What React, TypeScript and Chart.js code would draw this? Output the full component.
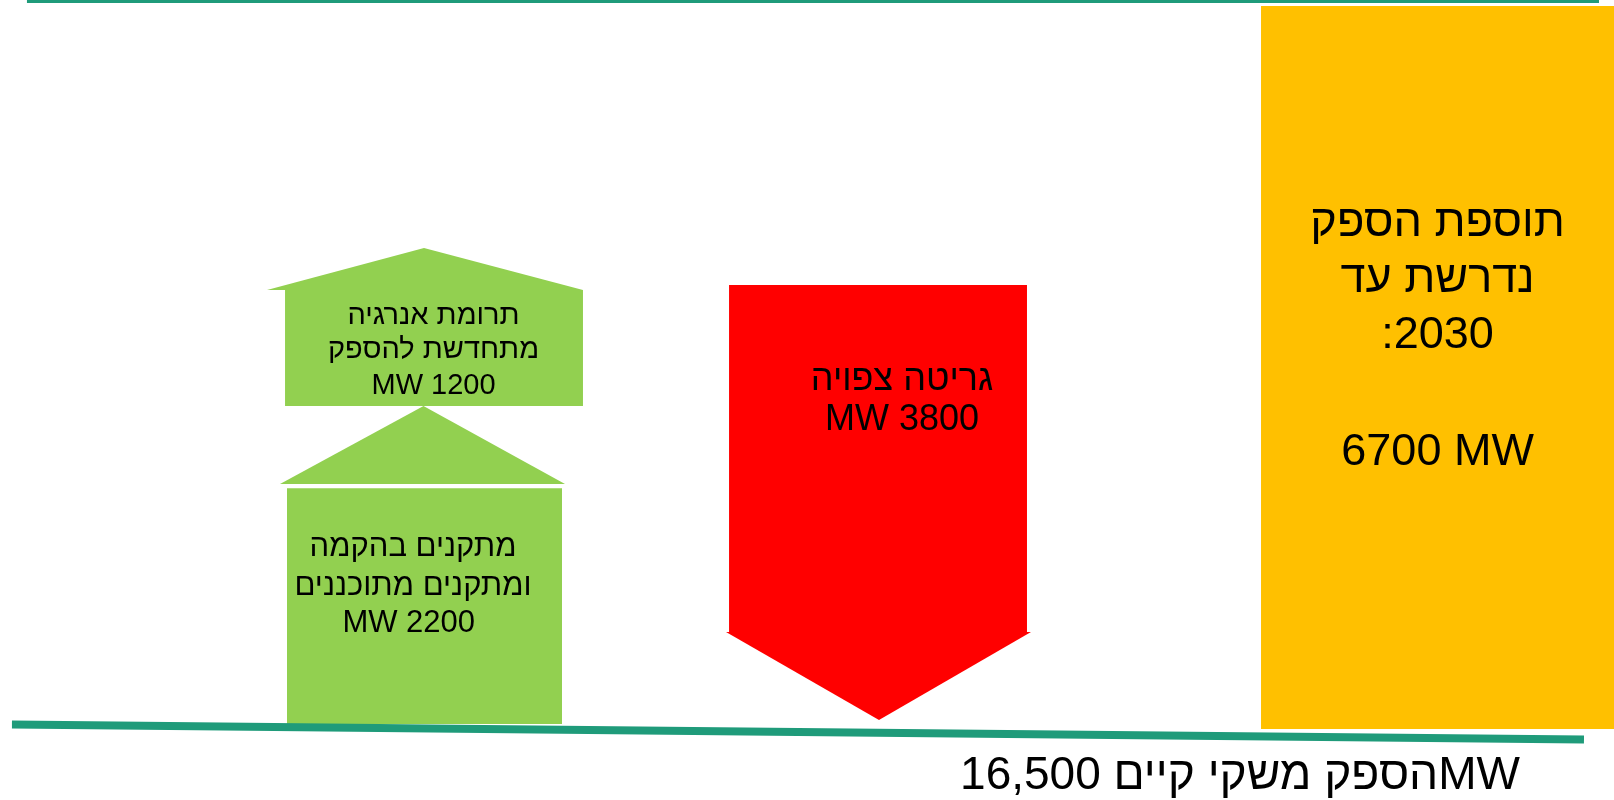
import React, { useEffect, useRef } from 'react';
import { Chart, registerables } from 'chart.js';

Chart.register(...registerables);

// ---------- data ----------
const categories = [
  'מתקנים בהקמה ומתקנים מתוכננים',
  'תרומת אנרגיה מתחדשת להספק',
  'גריטה צפויה',
  'תוספת הספק נדרשת עד 2030',
];
const capacityMW = [2200, 1200, 3800, 6700];
const existingSupplyMW = 16500;
const targetYear = 2030;

// ---------- style / layout (x in % of width, y in MW scale units) ----------
const FONT = "'Liberation Sans', Arial, 'DejaVu Sans', sans-serif";
const GREEN = '#92D050';
const RED = '#FF0000';
const ORANGE = '#FFC000';
const TEAL = '#1F9B7A';
const Y_MIN = -709;
const Y_MAX = 6756;

const fmt = (v: number) => v.toLocaleString('en-US');

type Pt = { x: number; y: number };

function rect(x1: number, x2: number, bottom: number, top: number, color: string) {
  return {
    data: [{ x: x1, y: top }, { x: x2, y: top }] as Pt[],
    fill: { value: bottom },
    backgroundColor: color,
    borderColor: 'transparent',
    borderWidth: 0,
    pointRadius: 0,
  };
}

function tri(x1: number, xa: number, x2: number, base: number, apex: number, color: string) {
  return {
    data: [{ x: x1, y: base }, { x: xa, y: apex }, { x: x2, y: base }] as Pt[],
    fill: { value: base },
    backgroundColor: color,
    borderColor: 'transparent',
    borderWidth: 0,
    pointRadius: 0,
  };
}

function line(a: Pt, b: Pt, width: number) {
  return {
    data: [a, b],
    fill: false,
    borderColor: TEAL,
    borderWidth: width,
    pointRadius: 0,
    borderCapStyle: 'butt',
  };
}

type Block = { x: number; baselines: number[]; size: number; lines: string[]; dir?: 'ltr' | 'rtl' };

const textBlocks: Block[] = [
  {
    x: 25.59,
    baselines: [1568, 1204, 858],
    size: 31,
    lines: ['מתקנים בהקמה', 'ומתקנים מתוכננים', `MW ${capacityMW[0]} `],
  },
  {
    x: 26.86,
    baselines: [3733, 3415, 3079],
    size: 29,
    lines: ['תרומת אנרגיה', 'מתחדשת להספק', `MW ${capacityMW[1]}`],
  },
  {
    x: 55.89,
    baselines: [3117, 2743],
    size: 36,
    lines: ['גריטה צפויה', `MW ${capacityMW[2]}`],
  },
  {
    x: 89.07,
    baselines: [4554, 4031, 3509, 2417],
    size: 45,
    lines: ['תוספת הספק', 'נדרשת עד', `:${targetYear}`, `${capacityMW[3]} MW`],
  },
  {
    x: 76.83,
    baselines: [-607],
    size: 46,
    lines: [`${fmt(existingSupplyMW)} ` + 'הספק משקי קיים' + 'MW'],
  },
];

const textPlugin = {
  id: 'blockText',
  afterDatasetsDraw(chart: any) {
    const { ctx, scales } = chart;
    const xs = scales.x;
    const ys = scales.y;
    ctx.save();
    ctx.fillStyle = '#000000';
    ctx.textAlign = 'center';
    ctx.textBaseline = 'alphabetic';
    for (const b of textBlocks) {
      ctx.font = `${b.size}px ${FONT}`;
      ctx.direction = b.dir || 'ltr';
      b.lines.forEach((t, i) => {
        ctx.fillText(t, xs.getPixelForValue(b.x), ys.getPixelForValue(b.baselines[i]));
      });
    }
    ctx.restore();
  },
};

export default function App() {
  const ref = useRef<HTMLCanvasElement | null>(null);

  useEffect(() => {
    if (!ref.current) return;
    const datasets: any[] = [
      // teal frame lines (drawn on top)
      line({ x: 0.74, y: -5 }, { x: 98.14, y: -145 }, 8),
      line({ x: 1.67, y: 6742 }, { x: 99.07, y: 6742 }, 3),
      // green: under construction & planned
      rect(17.78, 34.82, 0, capacityMW[0], GREEN),
      tri(17.35, 26.24, 35.01, 2240, 2967, GREEN),
      // green: renewable contribution
      rect(17.66, 36.12, 2967, 4050, GREEN),
      tri(16.54, 26.27, 36.12, 4050, 4442, GREEN),
      // red: expected retirement (down arrow)
      rect(45.17, 63.63, 858, 4096, RED),
      tri(44.98, 54.46, 63.88, 858, 37, RED),
      // orange: required addition
      rect(78.13, 100, -47, capacityMW[3], ORANGE),
    ];
    datasets.forEach((d, i) => (d.label = i >= 2 ? categories[Math.min(3, Math.floor((i - 2) / 2))] : 'frame'));

    const chart = new Chart(ref.current, {
      type: 'line',
      data: { datasets },
      options: {
        animation: false,
        responsive: false,
        devicePixelRatio: 1,
        layout: { padding: 0 },
        parsing: false as any,
        elements: { line: { tension: 0 } },
        plugins: {
          legend: { display: false },
          tooltip: { enabled: false },
        },
        scales: {
          x: { type: 'linear', display: false, min: 0, max: 100 },
          y: { type: 'linear', display: false, min: Y_MIN, max: Y_MAX },
        },
      },
      plugins: [textPlugin],
    });
    return () => chart.destroy();
  }, []);

  return (
    <div style={{ position: 'fixed', left: 0, top: 0, width: 1614, height: 800, background: '#fff' }}>
      <canvas ref={ref} width={1614} height={800} style={{ display: 'block' }} />
    </div>
  );
}
